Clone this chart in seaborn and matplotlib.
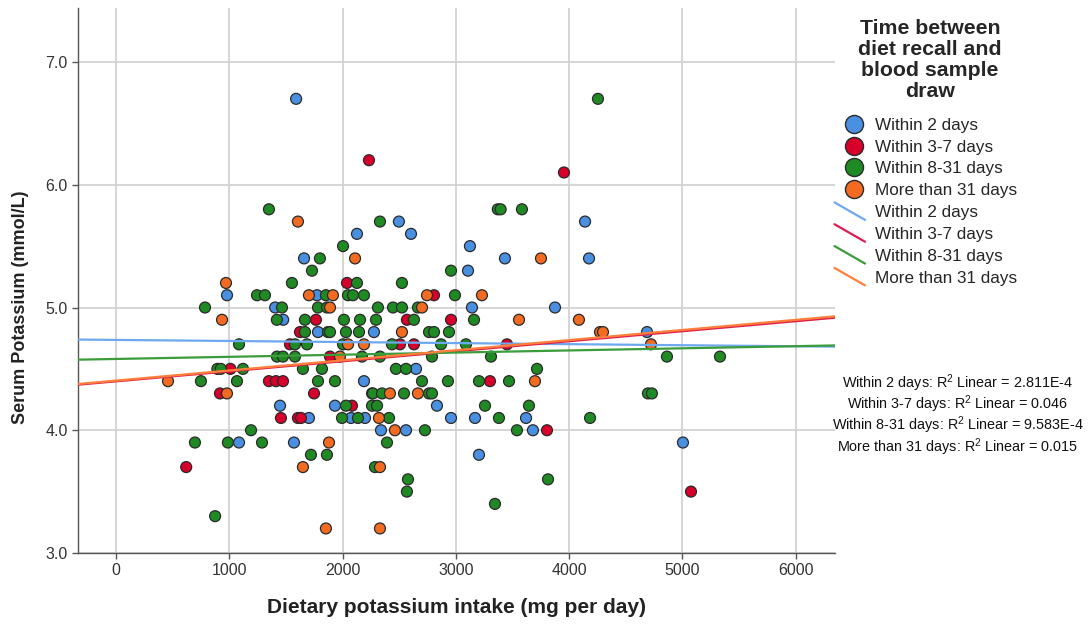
import matplotlib
matplotlib.use("Agg")
import matplotlib.pyplot as plt
import seaborn as sns
import pandas as pd
from matplotlib.lines import Line2D
from matplotlib.legend_handler import HandlerBase

# ---------------- data ----------------
groups = ["Within 2 days", "Within 3-7 days", "Within 8-31 days", "More than 31 days"]

blue_x = [1590, 1660, 2497, 2127, 2604, 3124, 3433, 3107, 4140, 4175, 980, 1774, 1405, 1476, 1783,
          1448, 1703, 1086, 1571, 2277, 2648, 2189, 1933, 2074, 2198, 2339, 2560, 3142, 3875, 2833,
          2957, 3169, 3619, 3680, 3204, 4687, 5004]
blue_y = [6.7, 5.4, 5.7, 5.6, 5.6, 5.5, 5.4, 5.3, 5.7, 5.4, 5.1, 5.1, 5.0, 4.9, 4.8,
          4.2, 4.1, 3.9, 3.9, 4.8, 4.5, 4.4, 4.2, 4.1, 4.1, 4.0, 4.0, 5.0, 5.0, 4.2,
          4.1, 4.1, 4.1, 4.0, 3.8, 4.8, 3.9]

red_x = [620, 918, 1010, 1350, 1412, 1474, 1536, 1624, 1748, 1765, 1456, 1606, 1633, 1889, 2039,
         2083, 2233, 2260, 2507, 2568, 2630, 2807, 2957, 3301, 3451, 3804, 3954, 5075]
red_y = [3.7, 4.3, 4.5, 4.4, 4.4, 4.4, 4.7, 4.8, 4.3, 4.9, 4.1, 4.1, 4.1, 4.6, 5.2,
         4.2, 6.2, 4.3, 4.7, 4.9, 4.7, 5.1, 4.9, 4.4, 4.7, 4.0, 6.1, 3.5]

green_x = [4254, 1350, 1800, 1730, 1553, 3370, 3395, 3583, 2330, 2004, 2957, 2127, 2524, 786, 750,
           895, 925, 697, 988, 875, 1245, 1315, 1853, 1465, 1783, 1862, 1420, 1668, 1668, 1871,
           1086, 1580, 1686, 1421, 1474, 1580, 1121, 1650, 1818, 1068, 1783, 1192, 1289, 1721, 1862,
           2048, 2092, 2189, 2312, 2445, 2524, 2665, 2012, 2154, 2295, 2630, 1889, 2030, 2145, 2763,
           2004, 2436, 2171, 2330, 2471, 2560, 1933, 2701, 2268, 2348, 2542, 2763, 2030, 2260, 2304,
           1995, 2136, 2410, 2727, 2392, 2286, 2577, 2568, 2992, 3160, 2807, 2939, 2869, 3089, 2789,
           3310, 3716, 2930, 3204, 3469, 2789, 3257, 3645, 3380, 3539, 3813, 3345, 4863, 5331, 4695,
           4730, 4184]
green_y = [6.7, 5.8, 5.4, 5.3, 5.2, 5.8, 5.8, 5.8, 5.7, 5.5, 5.3, 5.2, 5.2, 5.0, 4.4,
           4.5, 4.5, 3.9, 3.9, 3.3, 5.1, 5.1, 5.1, 5.0, 5.0, 5.0, 4.9, 4.9, 4.8, 4.8,
           4.7, 4.7, 4.7, 4.6, 4.6, 4.6, 4.5, 4.5, 4.5, 4.4, 4.4, 4.0, 3.9, 3.8, 3.8,
           5.1, 5.1, 5.1, 5.0, 5.0, 5.0, 5.0, 4.9, 4.9, 4.9, 4.9, 4.8, 4.8, 4.8, 4.8,
           4.7, 4.7, 4.6, 4.6, 4.5, 4.5, 4.4, 4.4, 4.3, 4.3, 4.3, 4.3, 4.2, 4.2, 4.2,
           4.1, 4.1, 4.1, 4.0, 3.9, 3.7, 3.6, 3.5, 5.1, 4.9, 4.8, 4.8, 4.7, 4.7, 4.6,
           4.6, 4.5, 4.4, 4.4, 4.4, 4.3, 4.2, 4.2, 4.1, 4.0, 3.6, 3.4, 4.6, 4.6, 4.3,
           4.3, 4.1]

orange_x = [1606, 971, 936, 459, 980, 2110, 3751, 1703, 1650, 1880, 1853, 1915, 2745, 1889, 2701,
            2524, 2048, 2189, 1977, 2418, 2665, 2321, 2462, 2330, 2330, 3230, 3557, 3698, 4086, 4272,
            4298, 4722]
orange_y = [5.7, 5.2, 4.9, 4.4, 4.3, 5.4, 5.4, 5.1, 3.7, 3.9, 3.2, 5.1, 5.1, 5.0, 5.0,
            4.8, 4.7, 4.7, 4.6, 4.3, 4.3, 4.1, 4.0, 3.7, 3.2, 5.1, 4.9, 4.4, 4.9, 4.8,
            4.8, 4.7]

r2_labels = ["2.811E-4", "0.046", "9.583E-4", "0.015"]

x_ticks = [0, 1000, 2000, 3000, 4000, 5000, 6000]
y_ticks = [3.0, 4.0, 5.0, 6.0, 7.0]

# ---------------- build frame ----------------
frames = []
for g, xs, ys in zip(groups, [blue_x, red_x, green_x, orange_x], [blue_y, red_y, green_y, orange_y]):
    frames.append(pd.DataFrame({"intake": xs, "potassium": ys, "group": g}))
df = pd.concat(frames, ignore_index=True)

point_colors = ["#4a90e2", "#d6002a", "#1f8a24", "#f26b21"]
line_colors = ["#6ea8ee", "#dc1f4c", "#3a9c3a", "#ff7f3a"]

# ---------------- plot ----------------
sns.set_theme(style="white")
plt.rcParams["font.family"] = ["Liberation Sans", "DejaVu Sans"]
plt.rcParams["mathtext.fontset"] = "custom"
plt.rcParams["mathtext.rm"] = "Liberation Sans"
plt.rcParams["mathtext.it"] = "Liberation Sans:italic"

fig = plt.figure(figsize=(10.89, 6.26), dpi=100)
ax = fig.add_axes([78 / 1089, 1 - 553 / 626, (835 - 78) / 1089, (553 - 8) / 626])

xlim = (-335, 6346)
ylim = (3.0, 7.44)
ax.set_xlim(*xlim)
ax.set_ylim(*ylim)

ax.set_xticks(x_ticks)
ax.set_yticks(y_ticks)
ax.set_yticklabels([f"{v:.1f}" for v in y_ticks])
ax.grid(True, color="#d2d2d2", lw=1.3, zorder=0)
ax.set_axisbelow(True)

sns.scatterplot(data=df, x="intake", y="potassium", hue="group", hue_order=groups,
                palette=point_colors, s=62, edgecolor="#2a2a2a", linewidth=0.9,
                legend=False, ax=ax, zorder=3)

for g, c in zip(groups, line_colors):
    sub = df[df["group"] == g]
    sns.regplot(data=sub, x="intake", y="potassium", scatter=False, ci=None, truncate=False,
                color=c, line_kws={"lw": 1.6, "zorder": 4}, ax=ax)

ax.set_xlim(*xlim)
ax.set_ylim(*ylim)

for s in ["top", "right"]:
    ax.spines[s].set_visible(False)
for s in ["left", "bottom"]:
    ax.spines[s].set_color("#555555")
    ax.spines[s].set_linewidth(1.0)

ax.tick_params(axis="both", labelsize=11.5, labelcolor="#333333", color="#555555",
               length=4, width=1, direction="out", bottom=True, left=True)
ax.set_xlabel("Dietary potassium intake (mg per day)", fontsize=15, fontweight="bold",
              color="#222222", labelpad=14)
ax.set_ylabel("Serum Potassium (mmol/L)", fontsize=13, fontweight="bold",
              color="#222222", labelpad=12)
ax.yaxis.set_label_coords(-0.065, 0.45)


class DiagHandler(HandlerBase):
    def create_artists(self, legend, orig_handle, xdescent, ydescent, width, height, fontsize, trans):
        l = Line2D([-xdescent - 6, -xdescent + width], [height + 2, -2],
                   color=orig_handle.get_color(), lw=1.6, transform=trans)
        return [l]


handles = []
for c in point_colors:
    handles.append(Line2D([], [], marker="o", ls="", markersize=13, markerfacecolor=c,
                          markeredgecolor="#2a2a2a", markeredgewidth=1.0))
line_handles = [Line2D([], [], color=c, lw=1.6) for c in line_colors]
handles += line_handles
labels = groups + groups

handler_map = {h: DiagHandler() for h in line_handles}
leg = fig.legend(handles, labels, loc="upper left", bbox_to_anchor=(836 / 1089, 1 - 12 / 626),
                 frameon=False, fontsize=12.3, handlelength=1.3, handletextpad=0.6,
                 labelspacing=0.4, borderaxespad=0, handler_map=handler_map,
                 title="Time between\ndiet recall and\nblood sample\ndraw",
                 title_fontproperties={"weight": "bold", "size": 15.3})
leg._legend_box.align = "center"
leg._legend_box.sep = 12
leg.get_title().set_multialignment("center")
leg.get_title().set_linespacing(1.14)

r2_ys = [383, 404, 425, 447]
for g, v, yp in zip(groups, r2_labels, r2_ys):
    fig.text(958 / 1089, 1 - yp / 626, f"{g}: R$^2$ Linear = {v}", ha="center", va="center",
             fontsize=10.4, color="#111111")

fig.savefig("out.png", dpi=100)
